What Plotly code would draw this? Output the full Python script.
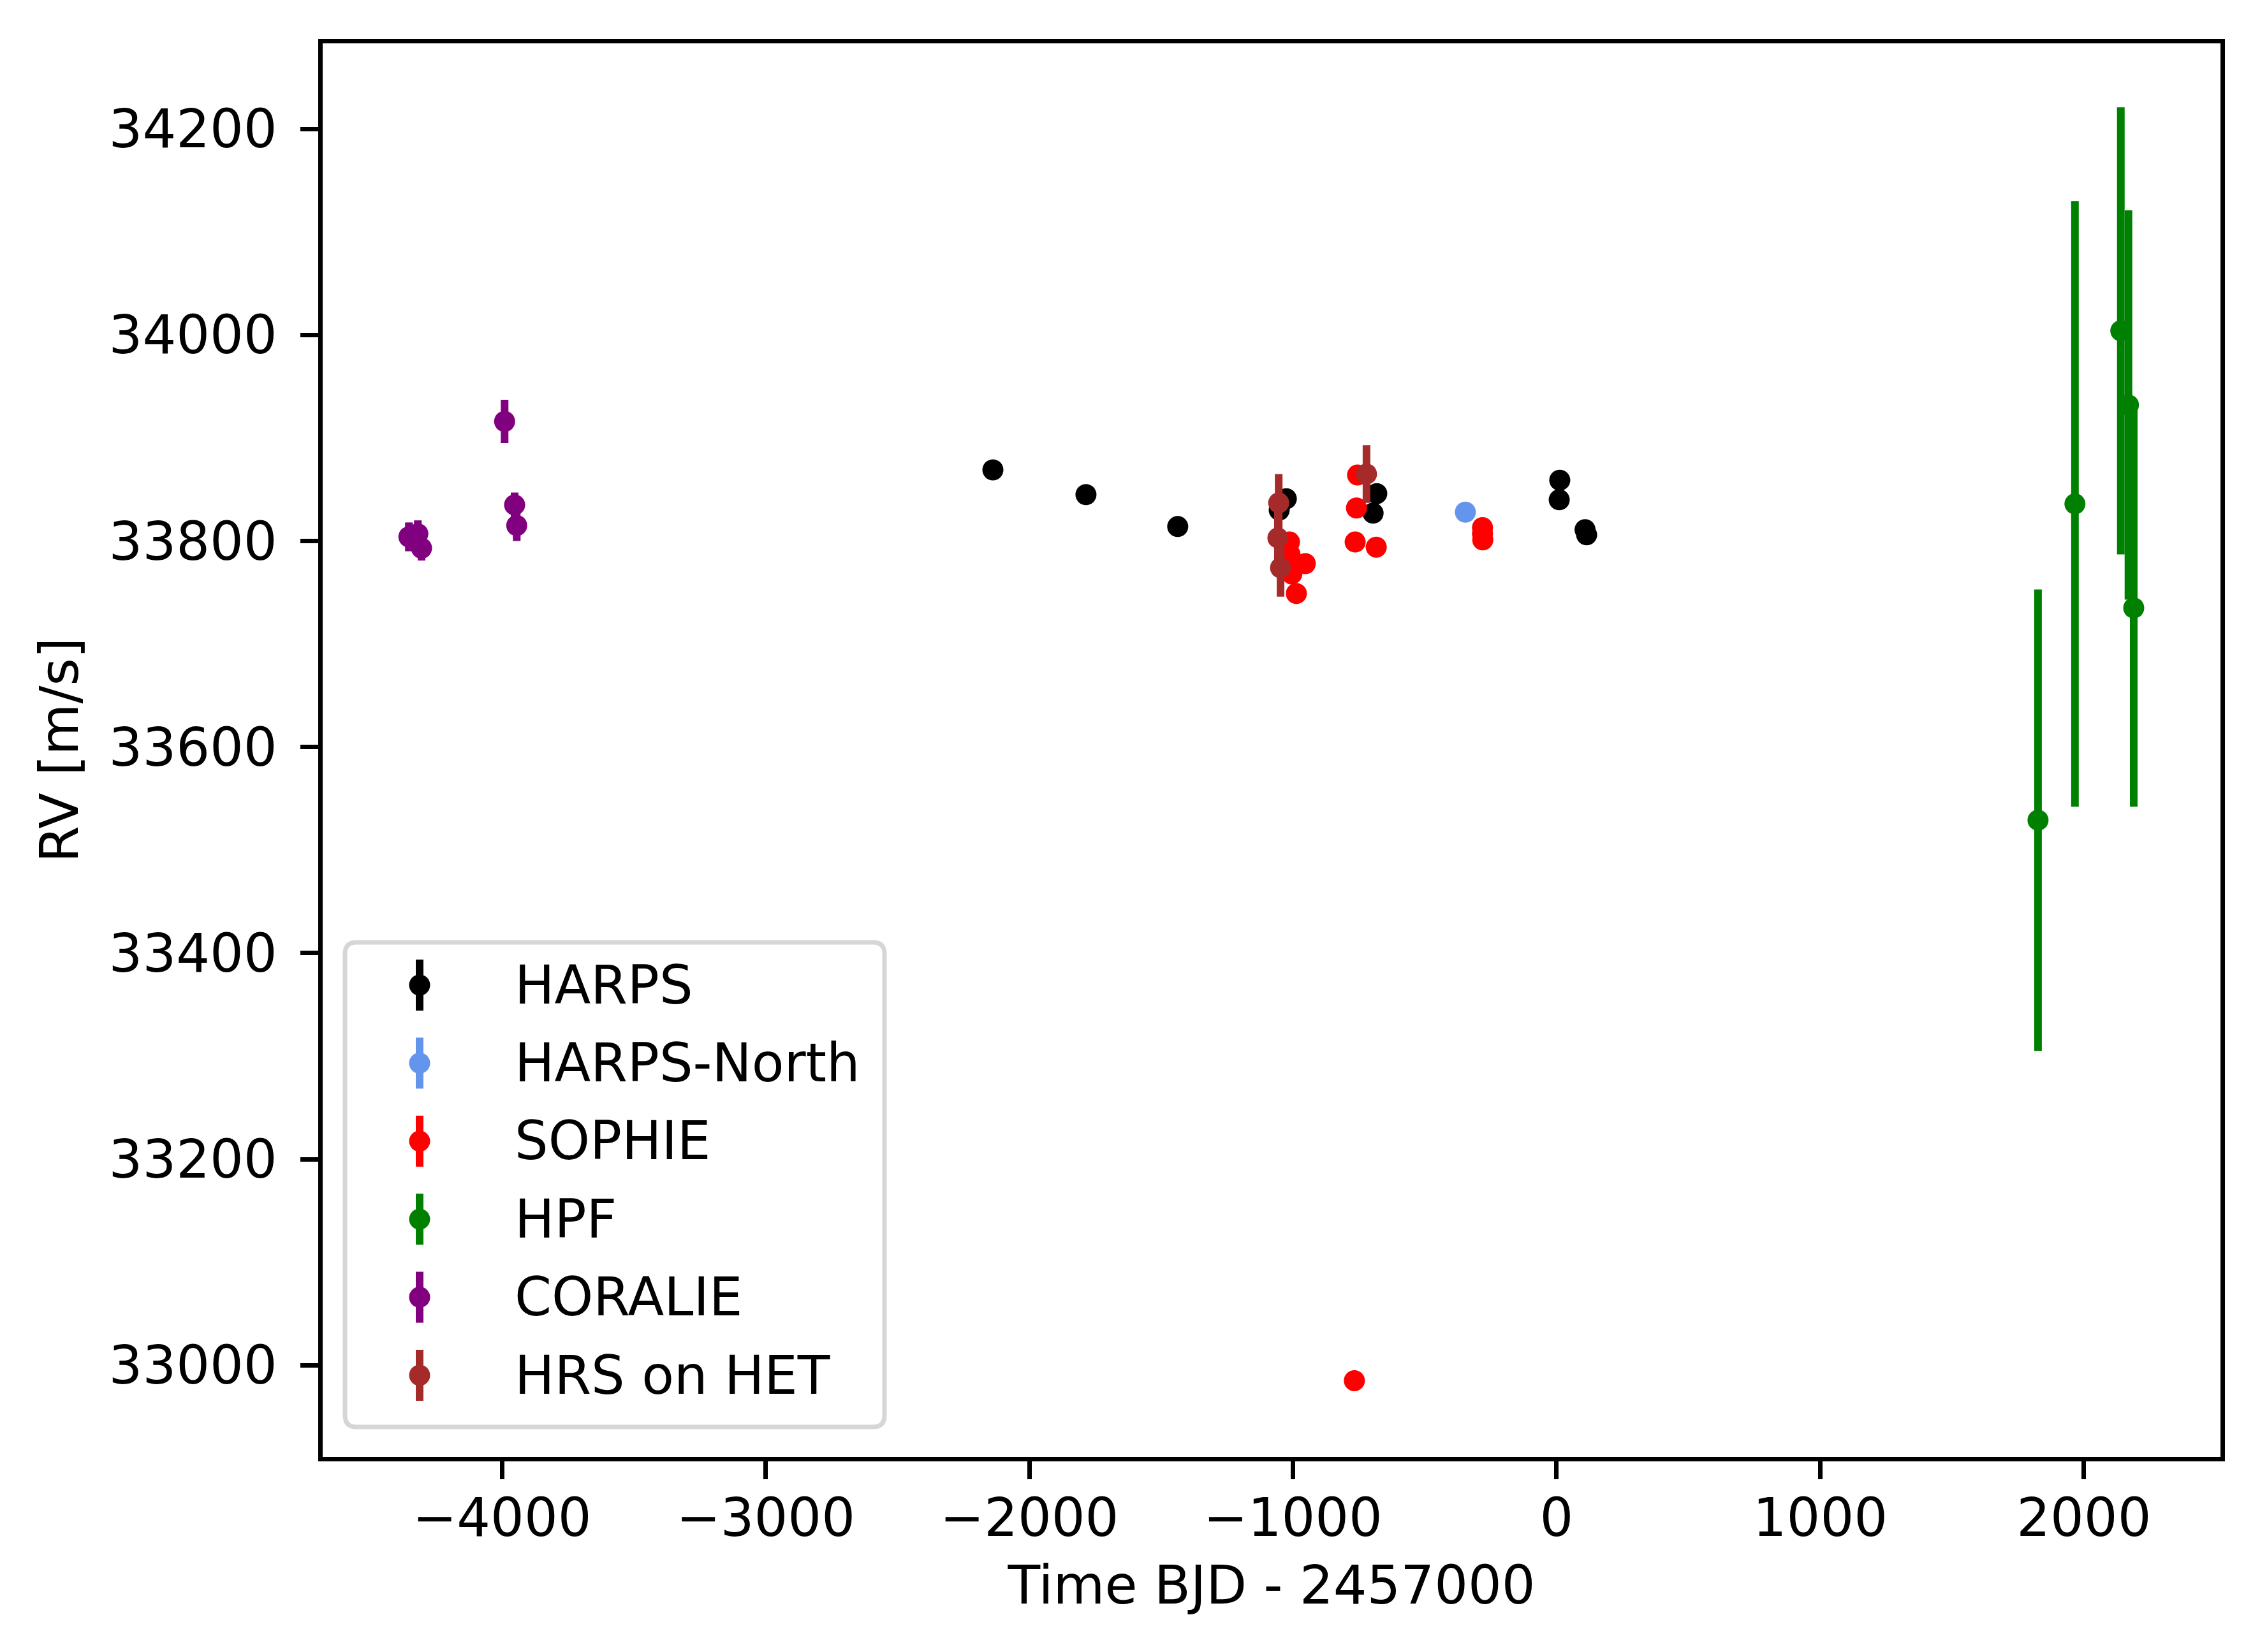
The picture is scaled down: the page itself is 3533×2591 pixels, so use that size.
import plotly.graph_objects as go

# RV data (time = BJD - 2457000, rv and err in m/s)
harps_t = [-2138, -1785, -1437, -1052, -1025, -696, -682, 10, 12, 108, 114]
harps_rv = [33869, 33845, 33814, 33830, 33841, 33827, 33846, 33840, 33859, 33811, 33806]
harps_err = [1.2, 1.5, 1.3, 1.8, 1.4, 1.6, 1.5, 1.1, 1.2, 1.3, 1.4]

harpsn_t = [-346]
harpsn_rv = [33828]
harpsn_err = [1.5]

sophie_t = [-1013, -1011, -1004, -987, -953, -764, -759, -755, -684, -767, -281, -281, -280]
sophie_rv = [33799, 33787, 33768, 33749, 33778, 33799, 33832, 33864, 33794, 32985, 33813, 33807, 33801]
sophie_err = [4, 5, 4, 5, 5, 4, 4, 5, 4, 6, 3, 3, 3]

hpf_t = [1826, 1966, 2140, 2169, 2189]
hpf_rv = [33529, 33836, 34004, 33932, 33735]
hpf_err = [224, 294, 217, 189, 193]

coralie_t = [-4353, -4319, -4305, -3990, -3952, -3944]
coralie_rv = [33804, 33807, 33793, 33916, 33835, 33815]
coralie_err = [14, 13, 12, 21, 12, 15]

hrs_t = [-1054, -1057, -1047, -721]
hrs_rv = [33837, 33803, 33774, 33865]
hrs_err = [28, 28, 28, 28]

series = [
    ("HARPS", "black", harps_t, harps_rv, harps_err),
    ("HARPS-North", "cornflowerblue", harpsn_t, harpsn_rv, harpsn_err),
    ("SOPHIE", "red", sophie_t, sophie_rv, sophie_err),
    ("HPF", "green", hpf_t, hpf_rv, hpf_err),
    ("CORALIE", "purple", coralie_t, coralie_rv, coralie_err),
    ("HRS on HET", "brown", hrs_t, hrs_rv, hrs_err),
]

W, H = 3533, 2591
ML, MR, MT, MB = 498, 59, 60, 314
FS = 83  # 10 pt at 600 dpi
PW, PH = W - ML - MR, H - MT - MB


def px(xp):  # pixel -> paper x
    return (xp - ML) / PW


def py(yp):  # pixel -> paper y
    return (H - MB - yp) / PH


fig = go.Figure()
for name, color, t, rv, err in series:
    fig.add_trace(go.Scatter(
        x=t, y=rv, mode="markers", name=name, showlegend=False,
        marker=dict(color=color, size=33, line=dict(width=0)),
        error_y=dict(type="data", array=err, visible=True,
                     color=color, thickness=12, width=0),
    ))

axis_style = dict(
    showline=True, linecolor="black", linewidth=6.5, mirror=True,
    ticks="outside", ticklen=28, tickwidth=6.5, tickcolor="black",
    showgrid=False, zeroline=False, tickformat="d",
    tickfont=dict(size=FS, color="black"),
    title_font=dict(size=FS, color="black"),
)

fig.update_xaxes(range=[-4680, 2518], dtick=1000, tick0=0,
                 title_text="Time BJD - 2457000", title_standoff=31,
                 ticklabelstandoff=-10, **axis_style)
fig.update_yaxes(range=[32911, 34283], dtick=200, tick0=33000,
                 title_text="RV [m/s]", title_standoff=23,
                 ticklabelstandoff=20, **axis_style)

# legend drawn by hand so its keys look like matplotlib errorbar keys
box_l, box_r, box_t, box_b, rad = 533, 1379, 1470, 2230, 18
path = (f"M {px(box_l + rad)} {py(box_t)} L {px(box_r - rad)} {py(box_t)} "
        f"Q {px(box_r)} {py(box_t)} {px(box_r)} {py(box_t + rad)} "
        f"L {px(box_r)} {py(box_b - rad)} "
        f"Q {px(box_r)} {py(box_b)} {px(box_r - rad)} {py(box_b)} "
        f"L {px(box_l + rad)} {py(box_b)} "
        f"Q {px(box_l)} {py(box_b)} {px(box_l)} {py(box_b - rad)} "
        f"L {px(box_l)} {py(box_t + rad)} "
        f"Q {px(box_l)} {py(box_t)} {px(box_l + rad)} {py(box_t)} Z")
shapes = [dict(type="path", xref="paper", yref="paper", path=path,
               fillcolor="rgba(255,255,255,0.8)",
               line=dict(color="#d6d6d6", width=7))]
annotations = []
key_x, text_x, row0, row_gap = 650, 797, 1537, 122.4
for i, (name, color, *_rest) in enumerate(series):
    yc = row0 + i * row_gap
    shapes.append(dict(type="line", xref="paper", yref="paper",
                       x0=px(key_x), x1=px(key_x), y0=py(yc - 40), y1=py(yc + 40),
                       line=dict(color=color, width=12)))
    shapes.append(dict(type="circle", xref="paper", yref="paper",
                       x0=px(key_x - 16.5), x1=px(key_x + 16.5),
                       y0=py(yc + 16.5), y1=py(yc - 16.5),
                       fillcolor=color, line=dict(width=0)))
    annotations.append(dict(xref="paper", yref="paper", x=px(text_x), y=py(yc),
                            xanchor="left", yanchor="middle", showarrow=False,
                            text=name, font=dict(size=FS, color="black")))

fig.update_layout(
    width=W, height=H,
    margin=dict(l=ML, r=MR, t=MT, b=MB),
    paper_bgcolor="white", plot_bgcolor="white",
    font=dict(family="DejaVu Sans", size=FS, color="black"),
    showlegend=False,
    shapes=shapes, annotations=annotations,
)

fig.write_html("out.html")
